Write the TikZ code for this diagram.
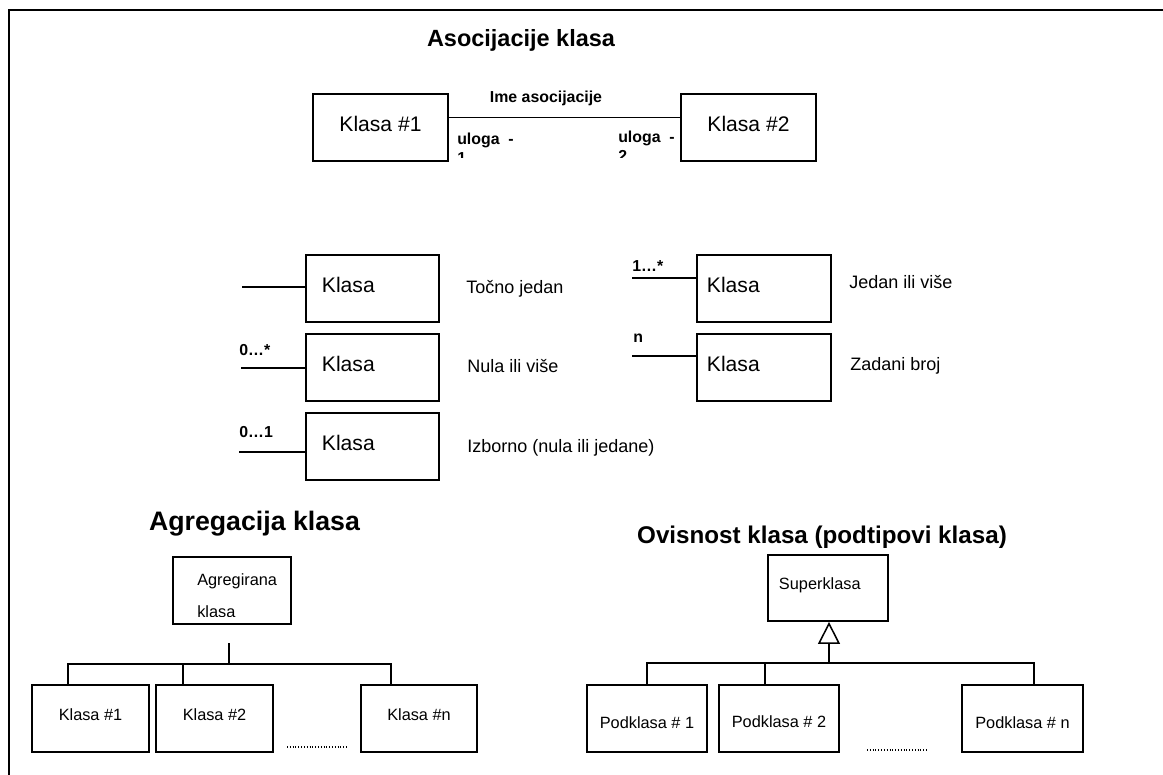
\documentclass[tikz,border=0pt]{standalone}
\usepackage{fontspec}
\setmainfont{Liberation Sans}
\usetikzlibrary{arrows.meta}
\tikzset {
  % plain connector line
  veza/.style = {
    draw = black,
    line width = 1.1pt
  },
  % frame round the page
  okvir/.style = {
    draw = black,
    line width = 1.4pt
  },
  % row of dots between the boxes
  tockice/.style = {
    draw = black,
    line width = 0.8pt,
    dash pattern = on 0.7pt off 1.3pt
  }
}
\tikzset {
  box node/.style = {
    draw = black,
    line width = 1.3pt,
    rectangle,
    inner sep = 0,
    text height = 0.75em,
    text depth = 0.25em
  },
  % large class box
  klasa/.style = {
    box node,
    minimum width = 3.375cm,
    minimum height = 1.675cm,
    font = \fontsize{15}{18}\selectfont
  },
  % class box with a multiplicity, text on the left
  mklasa/.style = {
    box node,
    minimum height = 1.675cm,
    inner xsep = 0.4cm,
    text width = 2.525cm,
    align = left,
    font = \fontsize{15}{18}\selectfont
  },
  % small class box
  sklasa/.style = {
    box node,
    minimum width = 2.925cm,
    minimum height = 1.675cm,
    text depth = 0.5em,
    font = \fontsize{11.6}{14}\selectfont
  },
  % small class box, text set lower
  pklasa/.style = {
    sklasa,
    minimum width = 3cm,
    text height = 1.45em,
    text depth = 0em
  },
  % texts
  naslov/.style = {
    inner sep = 0,
    font = \bfseries\fontsize{16.7}{20}\selectfont
  },
  oznaka/.style = {
    inner sep = 0,
    align = left,
    font = \bfseries\fontsize{11.3}{13.5}\selectfont
  },
  opis/.style = {
    inner sep = 0,
    font = \fontsize{12.8}{15}\selectfont
  },
  sopis/.style = {
    inner sep = 0,
    align = left,
    font = \fontsize{11.6}{22.7}\selectfont
  }
}

\begin{document}
\begin{tikzpicture}[x=0.025cm, y=-0.025cm]
    \useasboundingbox (0,0) rectangle (1163,775);
    \draw[okvir] (9,775) -- (9,10) -- (1163,10);

    % asocijacija
    \node[naslov, anchor=base] (naslov-asoc) at (521,47) {Asocijacije klasa};
    \node[klasa] (klasa-1) at (380.5,127.5) {Klasa \#1};
    \node[klasa] (klasa-2) at (748.5,127.5) {Klasa \#2};
    \draw[veza] ([yshift=0.245cm]klasa-1.east) -- ([yshift=0.245cm]klasa-2.west);
    \node[oznaka, anchor=base] (ime-asoc) at (546,103) {Ime asocijacije};
    \begin{scope}
      \clip (450,125) rectangle (680,157);
      \node[oznaka, anchor=north west] (uloga-1) at (457,133) {uloga\ \ -\\1};
      \node[oznaka, anchor=north west] (uloga-2) at (618,131) {uloga\ \ -\\2};
    \end{scope}

    % multiplicitet
    \node[mklasa] (tocno-jedan) at (372.5,288.5) {Klasa};
    \node[mklasa] (nula-vise) at (372.5,367.5) {Klasa};
    \node[mklasa] (izborno) at (372.5,446.5) {Klasa};
    \node[mklasa, inner xsep=0.25cm, text width=2.85cm] (jedan-vise) at (764,288.5) {Klasa};
    \node[mklasa, inner xsep=0.25cm, text width=2.85cm] (zadani) at (764,367.5) {Klasa};
    \coordinate (tocno-jedan-l) at (242,287);
    \coordinate (nula-vise-l) at (241,368);
    \coordinate (izborno-l) at (239,452);
    \coordinate (jedan-vise-l) at (632,278);
    \coordinate (zadani-l) at (632,356);
    \draw[veza] (tocno-jedan-l) -- (tocno-jedan-l -| tocno-jedan.west);
    \draw[veza] (nula-vise-l) -- (nula-vise-l -| nula-vise.west);
    \draw[veza] (izborno-l) -- (izborno-l -| izborno.west);
    \draw[veza] (jedan-vise-l) -- (jedan-vise-l -| jedan-vise.west);
    \draw[veza] (zadani-l) -- (zadani-l -| zadani.west);
    \node[oznaka, anchor=base west] (nula-vise-m) at (239,355) {0…*};
    \node[oznaka, anchor=base west] (izborno-m) at (239,437) {0…1};
    \node[oznaka, anchor=base west] (jedan-vise-m) at (632,271) {1…*};
    \node[oznaka, anchor=base west] (zadani-m) at (633,342) {n};
    \node[opis, anchor=base west] (tocno-jedan-o) at (466,293) {Točno jedan};
    \node[opis, anchor=base west] (nula-vise-o) at (467,372) {Nula ili više};
    \node[opis, anchor=base west] (izborno-o) at (467,452) {Izborno (nula ili jedane)};
    \node[opis, anchor=base west] (jedan-vise-o) at (849,288) {Jedan ili više};
    \node[opis, anchor=base west] (zadani-o) at (850,370) {Zadani broj};

    % agregacija
    \node[naslov, font=\bfseries\fontsize{19}{22}\selectfont, anchor=base] (naslov-agr) at (254.5,530) {Agregacija klasa};
    \node[box node, minimum width=2.95cm, minimum height=1.675cm] (agregirana) at (232,590.5) {};
    \begin{scope}
      \clip (agregirana.north west) rectangle (291,616);
      \node[sopis, anchor=north west] (agregirana-txt) at (197,573) {Agregirana\\klasa};
    \end{scope}
    \node[sklasa] (agr-klasa-1) at (90.5,718.5) {Klasa \#1};
    \node[sklasa] (agr-klasa-2) at (214.5,718.5) {Klasa \#2};
    \node[sklasa, minimum width=2.9cm] (agr-klasa-n) at (419,718.5) {Klasa \#n};
    \coordinate (agr-dol) at (229,643);
    \coordinate (agr-bus) at (229,664);
    \coordinate (agr-bus-1) at (68,664);
    \coordinate (agr-bus-2) at (183,664);
    \coordinate (agr-bus-n) at (391,664);
    \draw[veza] (agr-dol) -- (agr-bus);
    \draw[veza] (agr-klasa-1.north -| agr-bus-1) -- (agr-bus-1) -- (agr-bus-n) -- (agr-klasa-n.north -| agr-bus-n);
    \draw[veza] (agr-bus-2) -- (agr-klasa-2.north -| agr-bus-2);
    \coordinate (agr-tocke-a) at (287,747);
    \coordinate (agr-tocke-b) at (348,747);
    \draw[tockice] (agr-tocke-a) -- (agr-tocke-b);

    % ovisnost
    \begin{scope}
      \clip (600,500) rectangle (1050,547);
      \node[naslov, font=\bfseries\fontsize{17.2}{20}\selectfont, anchor=base] (naslov-ovis) at (822,543) {Ovisnost klasa (podtipovi klasa)};
    \end{scope}
    \node[sklasa, minimum width=3cm, minimum height=1.65cm, inner xsep=0.275cm, text width=2.45cm, align=left] (superklasa) at (828,588) {Superklasa};
    \node[pklasa] (podklasa-1) at (647,718.5) {Podklasa \# 1};
    \node[pklasa, text height=1.3em] (podklasa-2) at (779,718.5) {Podklasa \# 2};
    \node[pklasa, minimum width=3.025cm] (podklasa-n) at (1022.5,718.5) {Podklasa \# n};
    \coordinate (sup-bus) at (829,663);
    \coordinate (sup-bus-1) at (647,663);
    \coordinate (sup-bus-2) at (765,663);
    \coordinate (sup-bus-n) at (1034,663);
    \draw[veza, -{Triangle[open, length=0.55cm, width=0.55cm]}] (sup-bus) -- (sup-bus |- superklasa.south);
    \draw[veza] (podklasa-1.north -| sup-bus-1) -- (sup-bus-1) -- (sup-bus-n) -- (podklasa-n.north -| sup-bus-n);
    \draw[veza] (sup-bus-2) -- (podklasa-2.north -| sup-bus-2);
    \coordinate (sup-tocke-a) at (867,750);
    \coordinate (sup-tocke-b) at (928,750);
    \draw[tockice] (sup-tocke-a) -- (sup-tocke-b);
\end{tikzpicture}
\end{document}
